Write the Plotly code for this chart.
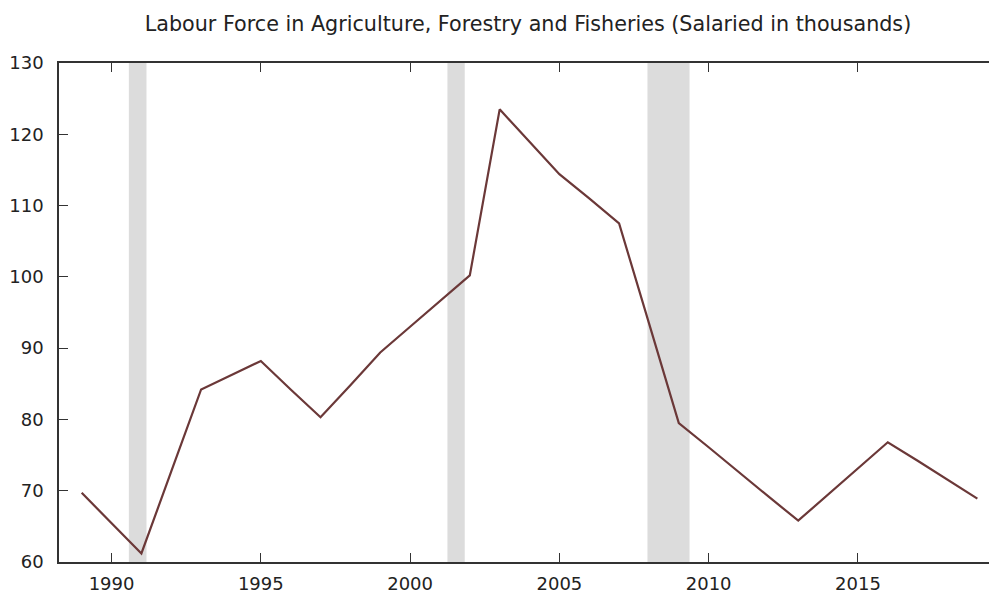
import plotly.graph_objects as go

years = list(range(1989, 2020))
salaried = [69.7, 65.5, 61.2, 72.7, 84.2, 86.2, 88.2, 84.2, 80.3, 84.8,
            89.4, 93.0, 96.6, 100.2, 123.5, 118.9, 114.4, 111.0, 107.5, 93.5,
            79.5, 76.1, 72.6, 69.2, 65.8, 69.5, 73.1, 76.8, 74.2, 71.5, 68.9]
recession_start = [1990.58, 2001.25, 2007.95]
recession_end = [1991.17, 2001.83, 2009.36]
x_ticks = [1990, 1995, 2000, 2005, 2010, 2015]
y_ticks = [60, 70, 80, 90, 100, 110, 120, 130]
title_text = "Labour Force in Agriculture, Forestry and Fisheries (Salaried in thousands)"

FONT = "DejaVu Sans, Verdana, sans-serif"

W, H = 989, 597

fig = go.Figure()
fig.add_trace(go.Scatter(x=years, y=salaried, mode="lines",
                         line=dict(color="#6b3838", width=2.2),
                         hoverinfo="x+y", showlegend=False))

for s, e in zip(recession_start, recession_end):
    fig.add_shape(type="rect", xref="x", yref="y domain", x0=s, x1=e, y0=0, y1=1,
                  fillcolor="#dcdcdc", line=dict(width=0), layer="below")

fig.update_layout(
    width=W, height=H,
    margin=dict(l=59, r=0, t=63, b=35),
    paper_bgcolor="white", plot_bgcolor="white",
    font=dict(family=FONT, size=17, color="#222"),
    title=dict(text=title_text, x=528/W, xanchor="center", xref="container",
               y=1 - 24/H, yanchor="middle", yref="container",
               font=dict(family=FONT, size=20.7, color="#222")),
    xaxis=dict(range=[1988.24, 2019.39], tickvals=x_ticks, ticks="inside",
               ticklen=9, tickwidth=1.2, tickcolor="#333", showgrid=False,
               zeroline=False, showline=True, linecolor="#333", linewidth=1.5,
               mirror="ticks", ticklabelstandoff=5,
               tickfont=dict(family=FONT, size=18, color="#222")),
    yaxis=dict(range=[60, 130], tickvals=y_ticks, ticks="inside",
               ticklen=9, tickwidth=1.2, tickcolor="#333", showgrid=False,
               zeroline=False, showline=True, linecolor="#333", linewidth=1.5,
               ticklabelstandoff=10,
               tickfont=dict(family=FONT, size=18, color="#222")),
)

fig.write_html("out.html", config={"displayModeBar": False},
               post_script="document.body.style.margin='0';document.body.style.overflow='hidden';")
